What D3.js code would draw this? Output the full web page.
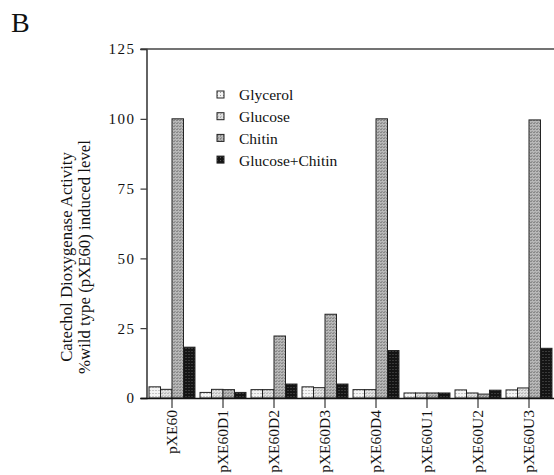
<!DOCTYPE html>
<html>
<head>
<meta charset="utf-8">
<script src="https://cdn.jsdelivr.net/npm/d3@7"></script>
<style>
  body { margin: 0; background: #fff; }
  text { font-family: "Liberation Serif", "Times New Roman", serif; fill: #111; }
</style>
</head>
<body>
<div id="chart"></div>
<script>
// Data
const constructs = ["pXE60", "pXE60D1", "pXE60D2", "pXE60D3", "pXE60D4", "pXE60U1", "pXE60U2", "pXE60U3"]
const series = ["Glycerol", "Glucose", "Chitin", "Glucose+Chitin"]
const glycerol     = [4.0, 2.0, 3.0, 4.0, 3.0, 1.8, 2.9, 2.9]
const glucose      = [3.1, 3.1, 3.0, 3.7, 3.0, 1.8, 1.8, 3.6]
const chitin       = [100, 3.0, 22.2, 30.0, 100, 1.8, 1.4, 99.6]
const glucoseChitin = [18.2, 2.0, 5.0, 5.0, 17.0, 1.8, 2.8, 17.8]
const yTicks = [0, 25, 50, 75, 100, 125]

const values = [glycerol, glucose, chitin, glucoseChitin]

// Chart parameters
const WIDTH = 554
const HEIGHT = 475
const PLOT = {LEFT: 146.5, RIGHT: 554.5, TOP: 49, BOTTOM: 398}

let svg = d3.select("#chart").append("svg")
    .attr("width", WIDTH)
    .attr("height", HEIGHT)

// Textured fills to mimic the stippled print
const defs = svg.append("defs")
const fills = [
    {id: "p0", bg: "#f4f4f4", dots: ["#9a9a9a"], size: 3},
    {id: "p1", bg: "#e2e2e2", dots: ["#8c8c8c", "#b0b0b0"], size: 3},
    {id: "p2", bg: "#b8b8b8", dots: ["#5a5a5a", "#7a7a7a"], size: 3},
    {id: "p3", bg: "#141414", dots: ["#606060"], size: 3}
]
fills.forEach(f => {
    let p = defs.append("pattern")
        .attr("id", f.id)
        .attr("patternUnits", "userSpaceOnUse")
        .attr("width", f.size).attr("height", f.size)
    p.append("rect").attr("width", f.size).attr("height", f.size).attr("fill", f.bg)
    f.dots.forEach((c, k) => p.append("rect")
        .attr("x", k).attr("y", k * 2 % f.size)
        .attr("width", 1).attr("height", 1).attr("fill", c))
})

// Scales
let x = d3.scaleBand()
    .domain(constructs)
    .range([PLOT.LEFT, PLOT.RIGHT])

let xInner = d3.scaleBand()
    .domain(series)
    .range([0, x.bandwidth()])
    .paddingOuter(0.22)

let y = d3.scaleLinear()
    .domain([0, 125])
    .range([PLOT.BOTTOM, PLOT.TOP])

// Panel letter
svg.append("text")
    .attr("x", 11).attr("y", 32)
    .style("font-size", "28px")
    .text("B")

// Bars
let groups = svg.selectAll("g.group")
    .data(constructs)
    .enter()
    .append("g")
    .attr("class", "group")
    .attr("transform", d => `translate(${x(d)},0)`)

groups.selectAll("rect")
    .data((d, i) => series.map((s, j) => ({series: s, j: j, value: values[j][i]})))
    .enter()
    .append("rect")
    .attr("x", d => xInner(d.series))
    .attr("width", xInner.bandwidth())
    .attr("y", d => y(d.value))
    .attr("height", d => y(0) - y(d.value))
    .attr("fill", d => `url(#p${d.j})`)
    .attr("stroke", "#222")
    .attr("stroke-width", 1)

// Y axis
let yAxis = svg.append("g")
    .attr("transform", `translate(${PLOT.LEFT},0)`)
    .call(d3.axisLeft(y).tickValues(yTicks).tickSize(6).tickPadding(5))
yAxis.select(".domain").attr("stroke", "#111").attr("stroke-width", 1.3)
yAxis.selectAll(".tick line").attr("stroke", "#111")
yAxis.selectAll(".tick text")
    .style("font-family", "Liberation Serif, serif")
    .style("font-size", "15px")
    .style("letter-spacing", "1.5px")
    .attr("fill", "#111")

// Top frame line
svg.append("line")
    .attr("x1", PLOT.LEFT - 6).attr("x2", WIDTH)
    .attr("y1", y(125)).attr("y2", y(125))
    .attr("stroke", "#444").attr("stroke-width", 1.3)

// X axis
let xAxis = svg.append("g")
    .attr("transform", `translate(0,${PLOT.BOTTOM})`)
    .call(d3.axisBottom(x).tickSize(10).tickSizeOuter(0).tickPadding(2))
xAxis.select(".domain")
    .attr("d", `M${PLOT.LEFT - 6},0.5H${WIDTH}`)
    .attr("stroke", "#111").attr("stroke-width", 1.3)
xAxis.selectAll(".tick line").attr("stroke", "#111")
xAxis.selectAll(".tick text")
    .style("font-family", "Liberation Serif, serif")
    .style("font-size", "15.5px")
    .attr("fill", "#111")
    .attr("text-anchor", "end")
    .attr("transform", "rotate(-90)")
    .attr("x", -12)
    .attr("y", 0)
    .attr("dy", "0.35em")

// Y axis title
let title = svg.append("text")
    .attr("transform", "translate(72,257) rotate(-90)")
    .attr("text-anchor", "middle")
    .style("font-size", "16.8px")
title.append("tspan").attr("x", 0).attr("dy", 0).text("Catechol Dioxygenase Activity")
title.append("tspan").attr("x", 0).attr("dy", 18).text("%wild type (pXE60) induced level")

// Legend
let legend = svg.append("g")
    .attr("transform", "translate(217,95)")
let items = legend.selectAll("g")
    .data(series)
    .enter()
    .append("g")
    .attr("transform", (d, i) => `translate(0,${i * 21.7})`)
items.append("rect")
    .attr("x", 0).attr("y", -4)
    .attr("width", 7).attr("height", 7)
    .attr("fill", (d, i) => `url(#p${i})`)
    .attr("stroke", "#222")
items.append("text")
    .attr("x", 22).attr("y", 0)
    .attr("dy", "0.35em")
    .style("font-size", "15.5px")
    .text(d => d)
</script>
</body>
</html>
